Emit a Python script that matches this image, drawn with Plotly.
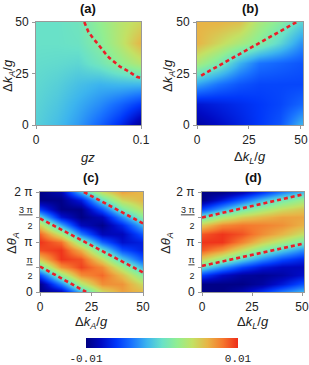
import numpy as np
import plotly.graph_objects as go

PI = np.pi

# ---------------- data (values in units of 1e-3) ----------------
# panel (a): x = gz, y = Δk_A/g
a_gz = [0, 0.02, 0.04, 0.06, 0.08, 0.1]
a_dkA = [0, 10, 20, 30, 40, 50]
a_vals_milli = [
    [-0.8, -1.6, -2.8, -4.5, -6.5, -9.5],
    [-0.6, -1.2, -2.2, -3.2, -4.5, -6.0],
    [-0.4, -0.8, -1.5, -2.0, -1.8, -1.8],
    [-0.2, -0.3, -0.5, 0.5, 2.0, 3.5],
    [0.0, 0.0, 0.2, 1.5, 3.5, 6.0],
    [0.0, 0.0, 0.4, 2.0, 3.5, 4.5],
]
a_line_gz = [0.046, 0.050, 0.054, 0.058, 0.062, 0.066, 0.070, 0.075, 0.080, 0.086, 0.091, 0.096, 0.100]
a_line_dkA = [50, 45.1, 42.4, 39.7, 36.9, 34.8, 32.5, 30.4, 28.3, 26.7, 25.0, 23.4, 22.8]

# panel (b): x = Δk_L/g, y = Δk_A/g
b_dkL = [0, 10, 20, 30, 40, 50]
b_dkA = [0, 10, 20, 30, 40, 50]
b_vals_milli = [
    [-9.0, -8.0, -7.0, -6.0, -5.0, -2.0],
    [-7.5, -7.0, -6.5, -6.0, -5.5, -4.5],
    [-2.5, -4.0, -5.0, -5.5, -5.5, -5.5],
    [3.0, 1.0, -2.0, -4.0, -4.5, -5.0],
    [6.0, 4.5, 3.0, 1.5, -0.5, -3.0],
    [6.0, 6.0, 5.5, 3.0, 1.5, -0.5],
]
b_line_dkL = [2, 10, 20, 30, 40, 48]
b_line_dkA = [24.0, 28.5, 34.3, 40.0, 45.8, 50.0]

# panels (c),(d): y = Δθ_A in steps of π/6
theta_rows = [k * PI / 6 for k in range(13)]

# panel (c): x = Δk_A/g
c_dkA = [0, 10, 20, 30, 40, 50]
c_vals_milli = [
    [-9.8, -8.6, -1.9, 4.1, 6.6, 5.8],
    [-9.7, -3.7, 3.1, 7.2, 7.1, 4.2],
    [-5.3, 2.0, 7.3, 8.4, 5.6, 1.4],
    [0.4, 7.1, 9.4, 7.4, 2.8, -2.0],
    [5.4, 9.8, 9.0, 4.3, -1.1, -5.2],
    [9.1, 9.8, 6.1, 0.1, -5.2, -7.0],
    [9.8, 8.2, 1.7, -4.6, -7.7, -7.0],
    [8.5, 3.5, -3.7, -8.3, -8.3, -4.9],
    [4.7, -2.2, -8.2, -9.6, -6.6, -1.7],
    [-0.5, -7.4, -9.8, -8.4, -3.2, 1.7],
    [-6.1, -9.8, -9.8, -4.9, 1.0, 4.2],
    [-9.8, -9.8, -7.1, -0.2, 4.4, 5.9],
    [-9.8, -8.6, -1.9, 4.1, 6.6, 5.8],
]
c_line1_x = [0, 22.4]
c_line1_y = [1.60, 0.0]
c_line2_x = [0, 50]
c_line2_y = [4.62, 1.23]
c_line3_x = [21.3, 50]
c_line3_y = [6.283, 4.31]

# panel (d): x = Δk_L/g
d_dkL = [0, 10, 20, 30, 40, 50]
d_vals_milli = [
    [-9.8, -9.8, -8.5, -6.2, -3.7, -1.8],
    [-9.8, -9.8, -9.8, -9.0, -7.3, -5.2],
    [-5.8, -7.9, -9.1, -9.4, -8.9, -7.8],
    [-0.2, -3.1, -5.6, -7.3, -8.2, -8.3],
    [4.9, 2.3, -0.6, -3.2, -5.3, -6.6],
    [8.8, 7.0, 4.1, 1.4, -1.0, -3.1],
    [9.8, 9.8, 7.6, 5.0, 3.0, 1.0],
    [8.9, 9.8, 9.0, 7.3, 5.9, 4.1],
    [5.2, 7.4, 8.0, 7.7, 7.2, 6.1],
    [0.2, 3.0, 4.9, 5.9, 6.6, 6.5],
    [-5.6, -2.5, 0.5, 2.5, 4.2, 5.2],
    [-9.8, -7.3, -4.6, -1.7, 0.7, 2.4],
    [-9.8, -9.8, -8.5, -6.2, -3.7, -1.8],
]
d_line1_x = [0, 50]
d_line1_y = [1.64, 3.02]
d_line2_x = [0, 50]
d_line2_y = [4.68, 6.12]

cbar_ticks = [-0.01, 0.01]
cbar_labels = ["-0.01", "0.01"]
theta_tickvals = [0, PI / 2, PI, 3 * PI / 2, 2 * PI]
theta_ticktext = [
    "0",
    "<span style='font-size:9px'><u>π</u><br>2</span>",
    "π",
    "<span style='font-size:9px'><u>3 π</u><br>2</span>",
    "2 π",
]

# ---------------- figure ----------------
W, H = 309, 365
colorscale = [
    [0.0, "rgb(0,0,128)"], [0.1, "rgb(0,10,195)"], [0.2, "rgb(0,55,250)"],
    [0.3, "rgb(25,115,255)"], [0.4, "rgb(60,180,238)"], [0.5, "rgb(105,225,200)"],
    [0.6, "rgb(145,238,145)"], [0.7, "rgb(195,225,100)"], [0.8, "rgb(232,180,70)"],
    [0.9, "rgb(245,120,45)"], [1.0, "rgb(238,45,25)"],
]

fig = go.Figure()

def add_heat(x, y, vals, xa, ya):
    fig.add_trace(go.Heatmap(
        x=x, y=y, z=np.array(vals) * 1e-3, coloraxis="coloraxis",
        zsmooth="best", xaxis=xa, yaxis=ya, hoverinfo="skip"))

def add_line(x, y, xa, ya):
    fig.add_trace(go.Scatter(
        x=x, y=y, mode="lines", xaxis=xa, yaxis=ya, showlegend=False,
        line=dict(color="rgb(235,30,40)", width=2.6, dash="4px,3px"),
        hoverinfo="skip"))

add_heat(a_gz, a_dkA, a_vals_milli, "x", "y")
add_line(a_line_gz, a_line_dkA, "x", "y")
add_heat(b_dkL, b_dkA, b_vals_milli, "x2", "y2")
add_line(b_line_dkL, b_line_dkA, "x2", "y2")
add_heat(c_dkA, theta_rows, c_vals_milli, "x3", "y3")
add_line(c_line1_x, c_line1_y, "x3", "y3")
add_line(c_line2_x, c_line2_y, "x3", "y3")
add_line(c_line3_x, c_line3_y, "x3", "y3")
add_heat(d_dkL, theta_rows, d_vals_milli, "x4", "y4")
add_line(d_line1_x, d_line1_y, "x4", "y4")
add_line(d_line2_x, d_line2_y, "x4", "y4")

tickfont = dict(family="Liberation Sans, Arial, sans-serif", size=12, color="#222")
axcommon = dict(showline=True, linecolor="#999", linewidth=1, mirror=True,
                ticks="outside", ticklen=3, tickcolor="#999", showgrid=False,
                zeroline=False, tickfont=tickfont, ticklabelstandoff=1,
                automargin=False, ticklabeloverflow="allow")

def px2x(p):
    return p / W

def px2y(p):
    return 1 - p / H

fig.update_layout(
    width=W, height=H, margin=dict(l=0, r=0, t=0, b=0, autoexpand=False),
    paper_bgcolor="white", plot_bgcolor="white", showlegend=False,
    xaxis=dict(domain=[px2x(36), px2x(141)], range=[0, 0.1], tickvals=[0, 0.1],
               ticktext=["0", "0.1"], anchor="y", **axcommon),
    yaxis=dict(domain=[px2y(125), px2y(22)], range=[0, 50], tickvals=[0, 25, 50],
               anchor="x", **axcommon),
    xaxis2=dict(domain=[px2x(197), px2x(303)], range=[0, 51], tickvals=[0, 25, 50],
                anchor="y2", **axcommon),
    yaxis2=dict(domain=[px2y(125), px2y(22)], range=[0, 50], tickvals=[0, 25, 50],
                anchor="x2", **axcommon),
    xaxis3=dict(domain=[px2x(40), px2x(143)], range=[0, 50], tickvals=[0, 25, 50],
                anchor="y3", **axcommon),
    yaxis3=dict(domain=[px2y(292), px2y(192)], range=[0, 2 * PI],
                tickvals=theta_tickvals, ticktext=theta_ticktext, anchor="x3", **axcommon),
    xaxis4=dict(domain=[px2x(202), px2x(304)], range=[0, 51], tickvals=[0, 25, 50],
                anchor="y4", **axcommon),
    yaxis4=dict(domain=[px2y(292), px2y(192)], range=[0, 2 * PI],
                tickvals=theta_tickvals, ticktext=theta_ticktext, anchor="x4", **axcommon),
    coloraxis=dict(
        colorscale=colorscale, cmin=-0.01, cmax=0.01,
        colorbar=dict(orientation="h", x=px2x(162), xanchor="center",
                      xref="container", yref="container",
                      y=px2y(338), yanchor="top", len=152, lenmode="pixels",
                      thickness=10, thicknessmode="pixels", xpad=0, ypad=0,
                      outlinewidth=0, tickvals=cbar_ticks, ticktext=cbar_labels,
                      ticks="", ticklabelposition="outside bottom",
                      tickfont=dict(family="Liberation Mono, Courier New, monospace",
                                    size=11, color="#222")),
    ),
)

titlefont = dict(family="Liberation Sans, Arial, sans-serif", size=13, color="#111")
labfont = dict(family="Liberation Sans, Arial, sans-serif", size=13, color="#222")
ann = []
for txt, x, y in [("<b>(a)</b>", 88, 8), ("<b>(b)</b>", 250, 8),
                  ("<b>(c)</b>", 91, 177), ("<b>(d)</b>", 253, 177)]:
    ann.append(dict(text=txt, x=px2x(x), y=px2y(y), xref="paper", yref="paper",
                    showarrow=False, font=titlefont, xanchor="center", yanchor="middle"))
for txt, x, y in [("<i>gz</i>", 88, 157),
                  ("Δ<i>k<sub>L</sub></i>/<i>g</i>", 250, 157),
                  ("Δ<i>k<sub>A</sub></i>/<i>g</i>", 91, 322),
                  ("Δ<i>k<sub>L</sub></i>/<i>g</i>", 253, 322)]:
    ann.append(dict(text=txt, x=px2x(x), y=px2y(y), xref="paper", yref="paper",
                    showarrow=False, font=labfont, xanchor="center", yanchor="middle"))
for txt, x, y in [("Δ<i>k<sub>A</sub></i>/<i>g</i>", 8, 76),
                  ("Δ<i>k<sub>A</sub></i>/<i>g</i>", 168, 76),
                  ("Δ<i>θ<sub>A</sub></i>", 12, 243),
                  ("Δ<i>θ<sub>A</sub></i>", 166, 243)]:
    ann.append(dict(text=txt, x=px2x(x), y=px2y(y), xref="paper", yref="paper",
                    showarrow=False, font=labfont, xanchor="center", yanchor="middle",
                    textangle=-90))
fig.update_layout(annotations=ann)

fig.write_html("out.html", config={"displayModeBar": False},
               post_script="document.body.style.margin='0';document.body.style.padding='0';")
